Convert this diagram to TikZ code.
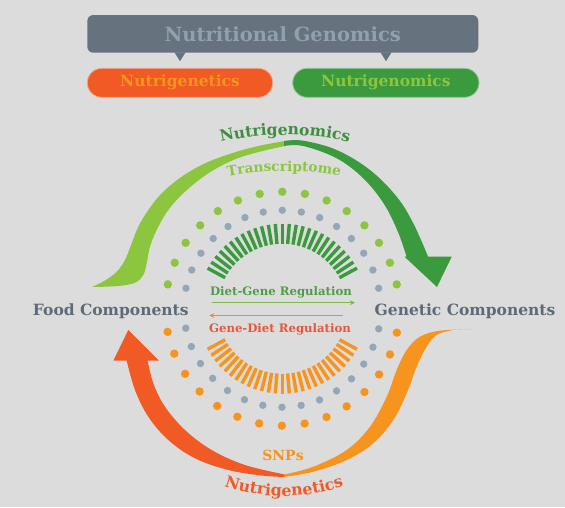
\documentclass[tikz,border=0pt]{standalone}
\usepackage{fontspec}
\setmainfont{DejaVu Serif}
\usetikzlibrary{decorations.text, arrows.meta, calc}
\definecolor{bg}{HTML}{DCDCDC}
\definecolor{slate}{HTML}{66737E}
\definecolor{bannertxt}{HTML}{8FA0AF}
\definecolor{labelgray}{HTML}{5D6B78}
\definecolor{dgreen}{HTML}{3A9A3D}
\definecolor{lgreen}{HTML}{8CC63F}
\definecolor{myorange}{HTML}{F7941D}
\definecolor{myred}{HTML}{F15A24}
\definecolor{dotgray}{HTML}{94A7B8}
\definecolor{tdgreen}{HTML}{3D8F3F}
\definecolor{tmgreen}{HTML}{4E9E44}
\definecolor{tred}{HTML}{E8573A}
\definecolor{regg}{HTML}{7DB84E}
\definecolor{rego}{HTML}{EE8A3C}
\tikzset{
  lbl/.style={inner sep=0pt, anchor=base, font=\bfseries\fontsize{15.5}{16}\selectfont},
  pill/.style={rounded corners=14.5pt, minimum height=29pt, inner sep=0pt, line width=0.8pt,
    font=\bfseries\fontsize{15.5}{16}\selectfont},
  stripe/.style={line width=3.4pt},
  regarrow/.style={-{Stealth[length=5pt,width=5pt]}, line width=1.1pt}
}
\begin{document}
\begin{tikzpicture}[x=1pt,y=1pt]
\fill[bg] (0,0) rectangle (565,-507);
\useasboundingbox (0,0) rectangle (565,-507);

% header
\node[fill=slate, rounded corners=6pt, minimum width=391pt, minimum height=37.7pt, inner sep=0pt,
  text=bannertxt, font=\bfseries\fontsize{19.5}{20}\selectfont] (ng) at (282.8,-33.85) {Nutritional Genomics};
\fill[slate] ($(ng.south)+(-108.3,0.5)$) -- ++(11,0) -- ++(-5.5,-8.8) -- cycle;
\fill[slate] ($(ng.south)+(97.7,0.5)$) -- ++(11,0) -- ++(-5.5,-8.8) -- cycle;
\node[pill, fill=myred, draw=myred!55!white, text=myorange, minimum width=185.4pt] (pg) at (180,-82.8) {Nutrigenetics};
\node[pill, fill=dgreen, draw=dgreen!55!white, text=lgreen, minimum width=186.3pt] (pn) at (385.85,-82.8) {Nutrigenomics};

% centre
\coordinate (c) at (282.3,-308.7);

% dots
\foreach \i in {0,...,14} {
  \pgfmathsetmacro\ta{168-\i*11.143}
  \pgfmathsetmacro\ba{191.4+\i*11.2}
  \fill[lgreen] ($(c)+(\ta:117)$) circle[radius=4.2];
  \fill[dotgray] ($(c)+(\ta:98.5)$) circle[radius=3.7];
  \fill[myorange] ($(c)+(\ba:117)$) circle[radius=4.2];
  \fill[dotgray] ($(c)+(\ba:98.5)$) circle[radius=3.7];
}
% stripes
\foreach \i in {0,...,26} {
  \pgfmathsetmacro\sa{151.5-\i*123/26}
  \pgfmathsetmacro\sb{208.5+\i*123/26}
  \draw[stripe, dgreen] ($(c)+(\sa:65)$) -- ($(c)+(\sa:85)$);
  \draw[stripe, myorange] ($(c)+(\sb:65)$) -- ($(c)+(\sb:85)$);
}

% green big arrow (light part)
\fill[lgreen] plot[smooth, tension=0.6] coordinates {(92,-287) (105,-280.5) (116.7,-271.7) (125,-260) (131.7,-243.3) (138.3,-226.7) (148.3,-210) (161.7,-193.3) (181.7,-176.7) (205,-163.3) (231.7,-153.3) (258.3,-146) (285,-141)}
  -- plot[smooth, tension=0.6] coordinates {(285,-146) (261.7,-151.2) (235,-159.3) (208.3,-173.3) (185,-191.7) (168.3,-210) (156.7,-230) (150,-246.7) (146.7,-263.3) (143.3,-275) (135,-282.7) (118.3,-286) (92,-287)} -- cycle;
% green big arrow (dark part)
\fill[dgreen] plot[smooth, tension=0.6] coordinates {(284,-141) (303.3,-140.7) (336.7,-150) (370,-170) (396.7,-196.7) (413.3,-223.3) (428,-256.5)}
  -- (451.7,-256.7) -- (437,-287) -- (404.5,-256.7)
  -- plot[smooth, tension=0.6] coordinates {(406.5,-256.5) (398,-232) (384,-204) (363.3,-178.3) (336.7,-158.3) (303.3,-146) (284,-146)} -- cycle;

% red big arrow (with head)
\fill[myred] plot[smooth, tension=0.6] coordinates {(126.7,-360.7) (135,-390) (148.3,-416.7) (168.3,-440) (195,-458.3) (228.3,-470) (261.7,-475.5) (285,-477)}
  -- plot[smooth, tension=0.6] coordinates {(285,-474.5) (245,-465) (211.7,-450) (185,-430) (165,-406.7) (153.3,-383.3) (147.7,-360.7)}
  -- (159,-360.7) -- (128.3,-330) -- (113.3,-360.7) -- cycle;
% orange swoosh
\fill[myorange] plot[smooth, tension=0.6] coordinates {(284,-477) (313.3,-471.7) (346.7,-460) (373.3,-443.3) (393.3,-420) (406.7,-393.3) (416.7,-366.7) (426.7,-346.7) (436.7,-335) (453.3,-330) (471.7,-329.3)}
  -- plot[smooth, tension=0.6] coordinates {(471.7,-329.3) (440,-330.7) (420,-336.7) (406.7,-350) (396.7,-370) (386.7,-396.7) (370,-426.7) (346.7,-450) (313.3,-466.7) (284,-474.5)} -- cycle;

% curved labels
\path[decorate, decoration={text along path, text align=center, text color=tdgreen,
  text={|\bfseries\fontsize{15.5}{16}\selectfont|Nutrigenomics}}]
  ($(285,-431)+(110:296)$) arc[start angle=110, end angle=70, radius=296];
\path[decorate, decoration={text along path, text align=center, text color=lgreen,
  text={|\bfseries\fontsize{13.7}{14}\selectfont|Transcriptome}}]
  ($(284,-471)+(110:300)$) arc[start angle=110, end angle=70, radius=300];
\path[decorate, decoration={text along path, text align=center, text color=myred,
  text={|\bfseries\fontsize{15.8}{16}\selectfont|Nutrigenetics}}]
  ($(284,-311)+(240:185)$) arc[start angle=240, end angle=300, radius=185];

% side labels
\node[lbl, text=labelgray] (food) at (110.8,-315) {Food Components};
\node[lbl, text=labelgray] (gen) at (465,-315) {Genetic Components};
\node[lbl, text=tmgreen, font=\bfseries\fontsize{11.7}{12}\selectfont] (dg) at (281,-295) {Diet-Gene Regulation};
\node[lbl, text=tred, font=\bfseries\fontsize{11.7}{12}\selectfont] (gd) at (280,-332.7) {Gene-Diet Regulation};
\node[lbl, text=myorange, font=\bfseries\fontsize{14}{14}\selectfont] (snp) at (283,-460) {SNPs};

% regulation arrows
\coordinate (dgA) at (211.7,-302.7);
\coordinate (dgB) at (355,-302.7);
\coordinate (gdA) at (343.3,-315.5);
\coordinate (gdB) at (209.3,-315.5);
\draw[regarrow, regg] (dgA) -- (dgB);
\draw[regarrow, rego] (gdA) -- (gdB);
\end{tikzpicture}
\end{document}
